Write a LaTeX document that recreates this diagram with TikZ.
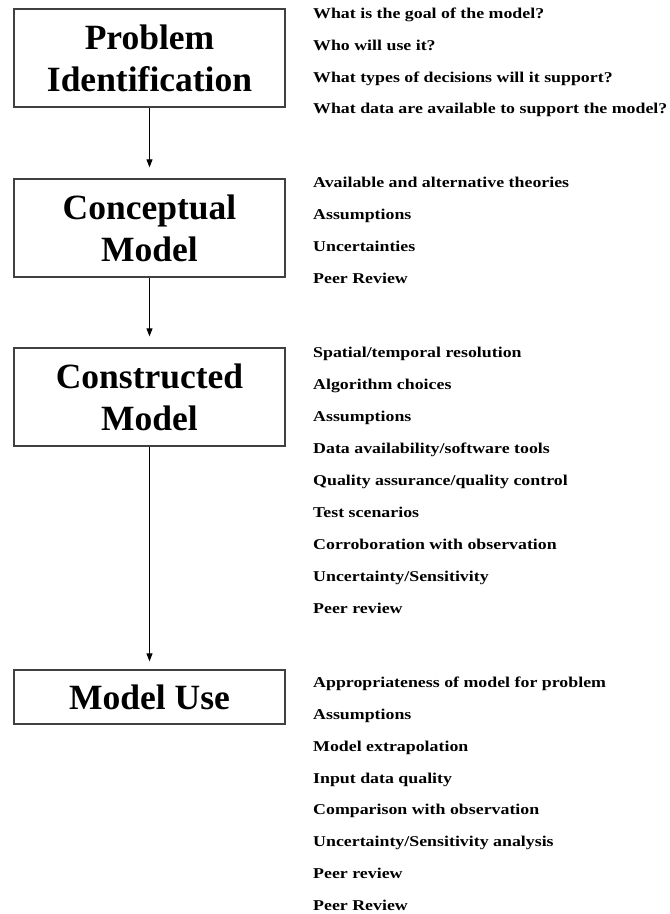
\documentclass[tikz,border=0pt]{standalone}
\usepackage{fontspec}
\setmainfont{Liberation Serif}
\newfontfamily\itemfont[FakeStretch=1.19]{Liberation Serif}
\usetikzlibrary{arrows.meta}
\begin{document}
\begin{tikzpicture}[x=1pt,y=-1pt,
  stage/.style={draw=black!75, line width=1.3pt, minimum width=271pt, inner sep=0pt, align=center, font=\fontsize{35.5}{42}\selectfont\bfseries},
  item/.style={anchor=base west, inner sep=0pt, font=\itemfont\fontsize{15}{18}\selectfont\bfseries},
  flow/.style={draw=black, line width=1pt, -{Triangle[length=8pt,width=6pt]}}]
\useasboundingbox (0,0) rectangle (670,914);
\node[stage, minimum height=98pt] (pi) at (149.5,58) {Problem\\Identification};
\node[stage, minimum height=98pt] (cm) at (149.5,228) {Conceptual\\Model};
\node[stage, minimum height=98pt] (km) at (149.5,397) {Constructed\\Model};
\node[stage, minimum height=54pt] (mu) at (149.5,697) {Model Use};
\draw[flow, shorten >=11pt] (pi) -- (cm);
\draw[flow, shorten >=11pt] (cm) -- (km);
\draw[flow, shorten >=8pt] (km) -- (mu);
% Problem identification items
\node[item] (a1) at (313,18) {What is the goal of the model?};
\node[item] (a2) at (313,50) {Who will use it?};
\node[item] (a3) at (313,82) {What types of decisions will it support?};
\node[item] (a4) at (313,113) {What data are available to support the model?};
% Conceptual model items
\node[item] (b1) at (313,187) {Available and alternative theories};
\node[item] (b2) at (313,219) {Assumptions};
\node[item] (b3) at (313,251) {Uncertainties};
\node[item] (b4) at (313,283) {Peer Review};
% Constructed model items
\node[item] (c1) at (313,357) {Spatial/temporal resolution};
\node[item] (c2) at (313,389) {Algorithm choices};
\node[item] (c3) at (313,421) {Assumptions};
\node[item] (c4) at (313,453) {Data availability/software tools};
\node[item] (c5) at (313,485) {Quality assurance/quality control};
\node[item] (c6) at (313,517) {Test scenarios};
\node[item] (c7) at (313,549) {Corroboration with observation};
\node[item] (c8) at (313,581) {Uncertainty/Sensitivity};
\node[item] (c9) at (313,613) {Peer review};
% Model use items
\node[item] (d1) at (313,687) {Appropriateness of model for problem};
\node[item] (d2) at (313,719) {Assumptions};
\node[item] (d3) at (313,751) {Model extrapolation};
\node[item] (d4) at (313,783) {Input data quality};
\node[item] (d5) at (313,814) {Comparison with observation};
\node[item] (d6) at (313,846) {Uncertainty/Sensitivity analysis};
\node[item] (d7) at (313,878) {Peer review};
\node[item] (d8) at (313,910) {Peer Review};
\end{tikzpicture}
\end{document}
